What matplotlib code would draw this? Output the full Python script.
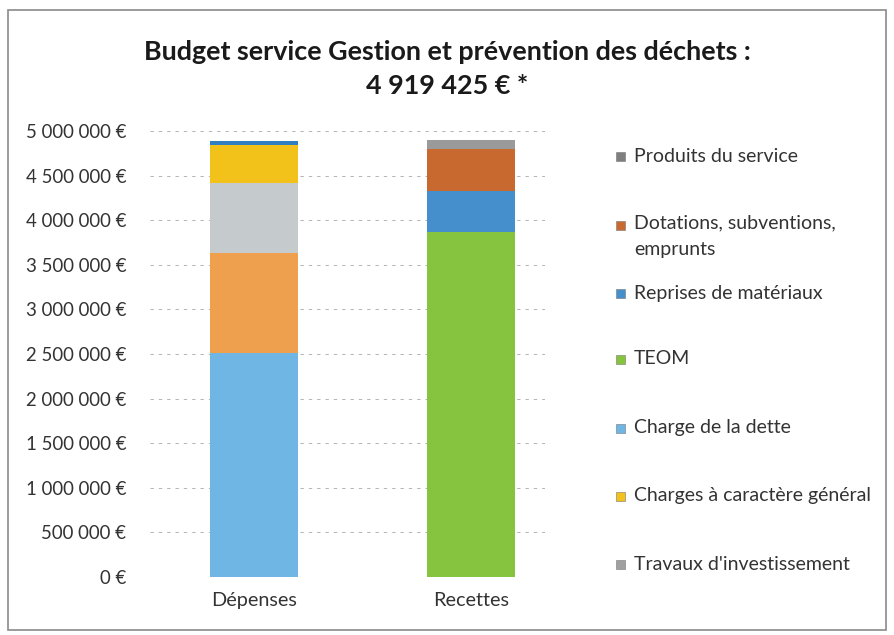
import matplotlib
matplotlib.use("Agg")
import matplotlib.pyplot as plt
from matplotlib.patches import Rectangle
from matplotlib.ticker import FuncFormatter, MultipleLocator

plt.rcParams['font.family'] = ['Lato', 'DejaVu Sans']

# ---- data ----
categories = ["Dépenses", "Recettes"]
# stacked segments, bottom to top
depenses_labels = ["Charge de la dette", "Autres dépenses", "Travaux d'investissement",
                   "Charges à caractère général", "Autres charges"]
depenses_values = [2510000, 1120000, 785000, 425000, 45000]
depenses_colors = ["#6fb6e4", "#eea04f", "#c5cacd", "#f2c21a", "#2f7fc1"]

recettes_labels = ["TEOM", "Reprises de matériaux", "Dotations, subventions, emprunts",
                   "Produits du service"]
recettes_values = [3868000, 460000, 470000, 101000]
recettes_colors = ["#86c440", "#4590cc", "#c8692f", "#9a9a9a"]

legend_labels = ["Produits du service", "Dotations, subventions,\nemprunts",
                 "Reprises de matériaux", "TEOM", "Charge de la dette",
                 "Charges à caractère général", "Travaux d'investissement"]
legend_colors = ["#7f7f7f", "#c8692f", "#4590cc", "#86c440", "#6fb6e4",
                 "#f2c21a", "#a0a0a0"]

title = "Budget service Gestion et prévention des déchets :\n4 919 425 € *"

# ---- figure ----
W, H = 895, 635
fig = plt.figure(figsize=(W / 100, H / 100), dpi=100)
fig.patch.set_facecolor("white")

def fx(px):
    return px / W

def fy(py):
    return 1 - py / H

ax = fig.add_axes([fx(150), fy(577), fx(545) - fx(150), fy(131) - fy(577)])

bar_w = 0.405
bottom = 0
for v, c in zip(depenses_values, depenses_colors):
    ax.bar(0, v, bottom=bottom, width=bar_w, color=c, edgecolor="none")
    bottom += v
bottom = 0
for v, c in zip(recettes_values, recettes_colors):
    ax.bar(1, v, bottom=bottom, width=bar_w, color=c, edgecolor="none")
    bottom += v

ax.set_xlim(-(254 - 150) / 217, 1 + (545 - 471) / 217)
ax.set_ylim(0, 5000000)
ax.yaxis.set_major_locator(MultipleLocator(500000))

def fmt(v, pos):
    s = f"{int(round(v)):,}".replace(",", " ")
    return f"{s} €"

ax.yaxis.set_major_formatter(FuncFormatter(fmt))
ax.set_xticks([0, 1])
ax.set_xticklabels(categories)
ax.tick_params(axis="y", length=0, pad=17, labelsize=13.4, labelcolor="#333333")
ax.tick_params(axis="x", length=0, pad=11, labelsize=14.3, labelcolor="#333333")
ax.grid(axis="y", color="#a8a8a8", linestyle=(0, (4, 6)), linewidth=0.6)
ax.set_axisbelow(True)
for s in ax.spines.values():
    s.set_visible(False)

fig.text(0.5, fy(69), title, ha="center", va="center", fontsize=19.4,
         fontweight="bold", color="#1a1a1a", linespacing=1.5)

# legend (manual)
leg_y = [156, 225, 293, 359, 428, 496, 564]
for lab, col, y in zip(legend_labels, legend_colors, leg_y):
    fig.patches.append(Rectangle((fx(616), fy(y + 5)), fx(9), fy(y - 4) - fy(y + 5),
                                 transform=fig.transFigure, facecolor=col,
                                 edgecolor="#777777", linewidth=0.4))
    if "\n" in lab:
        fig.text(fx(634), fy(y - 11), lab, ha="left", va="top",
                 fontsize=14, color="#333333", linespacing=1.75)
    else:
        fig.text(fx(634), fy(y), lab, ha="left", va="center",
                 fontsize=14, color="#333333")

# outer border
fig.patches.append(Rectangle((fx(8), fy(630)), fx(886) - fx(8), fy(10) - fy(630),
                             transform=fig.transFigure, fill=False,
                             edgecolor="#8a8a8a", linewidth=1.2))

fig.savefig("out.png", dpi=100)
